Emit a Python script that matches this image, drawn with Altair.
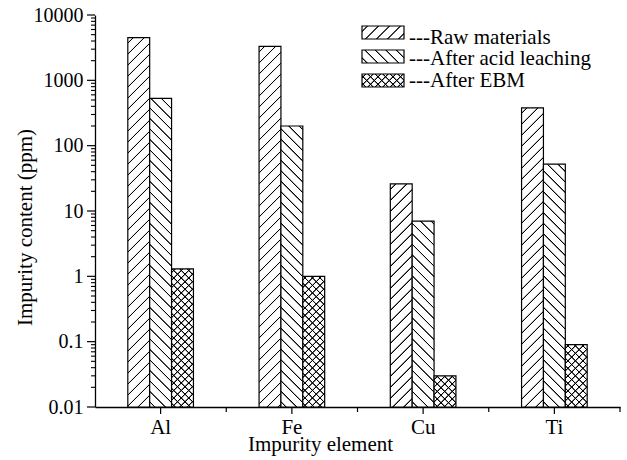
import math
import altair as alt
import pandas as pd

# ---------------- data ----------------
elements = ["Al", "Fe", "Cu", "Ti"]
series = ["Raw materials", "After acid leaching", "After EBM"]
raw_materials = [4500, 3300, 26, 380]
after_acid_leaching = [530, 200, 7.0, 52]
after_ebm = [1.3, 1.0, 0.03, 0.09]
values_by_series = [raw_materials, after_acid_leaching, after_ebm]
y_major_ticks = [0.01, 0.1, 1, 10, 100, 1000, 10000]

# ---------------- layout / style ----------------
W, H = 525, 392
YMIN, YMAX = 0.01, 10000
PAD_IN = 0.5
FONT = "Liberation Serif"
bar_w = W / len(elements) * (1 - PAD_IN) / len(series)
patterns = [("/", 11.0), ("\\", 10.5), ("x", 7.5)]


def bar_h(v):
    return H * (math.log10(v) - math.log10(YMIN)) / (math.log10(YMAX) - math.log10(YMIN))


def hatch(w, h, direction, period, fg="#000000", bg="#ffffff"):
    L = w + h
    k = (w + h) / (w * w + h * h)
    a, b = k * w, k * h
    if direction == "/":
        x1, y1, x2, y2 = 0, 0, a, b
    else:
        x1, y1, x2, y2 = 0, 1, a, 1 - b
    core, edge = 0.7, 0.7
    stops = [{"offset": 0, "color": bg}]
    c = period / 2
    while c - core / 2 - edge < L:
        for s, col in [(c - core / 2 - edge, bg), (c - core / 2, fg),
                       (c + core / 2, fg), (c + core / 2 + edge, bg)]:
            stops.append({"offset": round(min(max(s / L, 0), 1), 6), "color": col})
        c += period
    stops.append({"offset": 1, "color": bg})
    return {"gradient": "linear", "x1": x1, "y1": y1, "x2": x2, "y2": y2, "stops": stops}


y_minor_ticks = [m * t for t in y_major_ticks[:-1] for m in range(2, 10)]
x_boundaries = list(range(1, len(elements) + 1))

y_axis_main = alt.Axis(
    orient="left", values=y_major_ticks, format="~g",
    tickSize=8, tickOpacity=0, domainColor="black", domainWidth=1.3,
    labelFont=FONT, labelFontSize=20, labelColor="black", labelPadding=4,
    labelOverlap=False, grid=False, zindex=0,
    title="Impurity content (ppm)", titleFont=FONT, titleFontSize=21,
    titleFontWeight="normal", titleColor="black", titleX=-64, titleY=212,
    titleAngle=270, titleAlign="center", titleBaseline="alphabetic",
)
x_axis_main = alt.Axis(
    orient="bottom", labelAngle=0, tickSize=7, tickOpacity=0,
    domainColor="black", domainWidth=1.3, labelFont=FONT, labelFontSize=21,
    labelColor="black", labelBaseline="alphabetic", labelPadding=19, grid=False, zindex=0,
    title="Impurity element", titleFont=FONT, titleFontSize=21,
    titleFontWeight="normal", titleColor="black", titleX=225, titleY=43,
    titleAlign="center", titleBaseline="alphabetic",
)

x_scale = alt.Scale(domain=elements, paddingInner=PAD_IN, paddingOuter=PAD_IN / 2)
xo_scale = alt.Scale(domain=series, paddingInner=0, paddingOuter=0)
y_scale = alt.Scale(type="log", domain=[YMIN, YMAX], nice=False)

layers = []
count = 0
for j, s in enumerate(series):
    for i, el in enumerate(elements):
        v = values_by_series[j][i]
        df = pd.DataFrame({"element": [el], "series": [s], "value": [v], "base": [YMIN]})
        w, h = bar_w, bar_h(v)
        if count == 0:
            xa, ya = x_axis_main, y_axis_main
        else:
            xa, ya = None, None
        count += 1
        enc = dict(
            x=alt.X("element:N", sort=elements, scale=x_scale, axis=xa),
            xOffset=alt.XOffset("series:N", sort=series, scale=xo_scale),
            y=alt.Y("value:Q", scale=y_scale, axis=ya),
            y2=alt.Y2("base:Q"),
        )
        d, p = patterns[j]
        if d == "x":
            layers.append(alt.Chart(df).mark_bar(fill=hatch(w, h, "/", p), strokeWidth=0).encode(**enc))
            enc2 = dict(enc)
            enc2["x"] = alt.X("element:N", sort=elements, scale=x_scale, axis=None)
            enc2["y"] = alt.Y("value:Q", scale=y_scale, axis=None)
            layers.append(alt.Chart(df).mark_bar(
                fill=hatch(w, h, "\\", p, bg="rgba(0,0,0,0)"),
                stroke="black", strokeWidth=1.2).encode(**enc2))
        else:
            layers.append(alt.Chart(df).mark_bar(
                fill=hatch(w, h, d, p), stroke="black", strokeWidth=1.2).encode(**enc))

# ---------------- axis tick marks (drawn through the scales) ----------------
ymaj = pd.DataFrame({"t": y_major_ticks})
ymin_df = pd.DataFrame({"t": y_minor_ticks})
xel = pd.DataFrame({"element": elements})
xb = pd.DataFrame({"b": x_boundaries})
layers.append(alt.Chart(ymaj).mark_rule(color="black", strokeWidth=1.2).encode(
    y=alt.Y("t:Q", scale=y_scale, axis=None), x=alt.value(-8), x2=alt.value(0)))
layers.append(alt.Chart(ymin_df).mark_rule(color="black", strokeWidth=1.1).encode(
    y=alt.Y("t:Q", scale=y_scale, axis=None), x=alt.value(-4), x2=alt.value(0)))
layers.append(alt.Chart(xel).mark_tick(
    color="black", orient="vertical", size=7, thickness=1.2, opacity=1).encode(
    x=alt.X("element:N", sort=elements, scale=x_scale, axis=None),
    y=alt.value(H + 3.5)))
layers.append(alt.Chart(xb).mark_tick(
    color="black", orient="vertical", size=5, thickness=1.2, opacity=1).encode(
    x=alt.X("b:Q", scale=alt.Scale(domain=[0, len(elements)], nice=False, zero=False), axis=None),
    y=alt.value(H + 2.5)))

# ---------------- legend (manual, patterned) ----------------
LX0, LX1 = 267, 309
TX = 314
row_top = [11, 35, 59]
row_base = [29, 49.5, 71.5]
PH = 13
for j, s in enumerate(series):
    d, p = patterns[j]
    one = pd.DataFrame({"label": ["---" + s]})
    pos = dict(x=alt.value(LX0), x2=alt.value(LX1), y=alt.value(row_top[j]), y2=alt.value(row_top[j] + PH))
    lw = LX1 - LX0
    if d == "x":
        layers.append(alt.Chart(one).mark_rect(fill=hatch(lw, PH, "/", p), strokeWidth=0).encode(**pos))
        layers.append(alt.Chart(one).mark_rect(fill=hatch(lw, PH, "\\", p, bg="rgba(0,0,0,0)"),
                                               stroke="black", strokeWidth=1.2).encode(**pos))
    else:
        layers.append(alt.Chart(one).mark_rect(fill=hatch(lw, PH, d, p),
                                               stroke="black", strokeWidth=1.2).encode(**pos))
    layers.append(alt.Chart(one).mark_text(
        align="left", baseline="alphabetic", font=FONT, fontSize=21, color="black"
    ).encode(x=alt.value(TX), y=alt.value(row_base[j]), text="label:N"))

chart = alt.layer(*layers).resolve_scale(x="independent").resolve_axis(
    x="independent", y="independent").properties(
    width=W, height=H,
    autosize=alt.AutoSizeParams(type="none"),
    padding={"left": 95, "top": 15, "right": 7, "bottom": 53},
    background="white",
).configure_view(strokeWidth=0)

chart.save("out.html", embed_options={"renderer": "svg", "actions": False})
